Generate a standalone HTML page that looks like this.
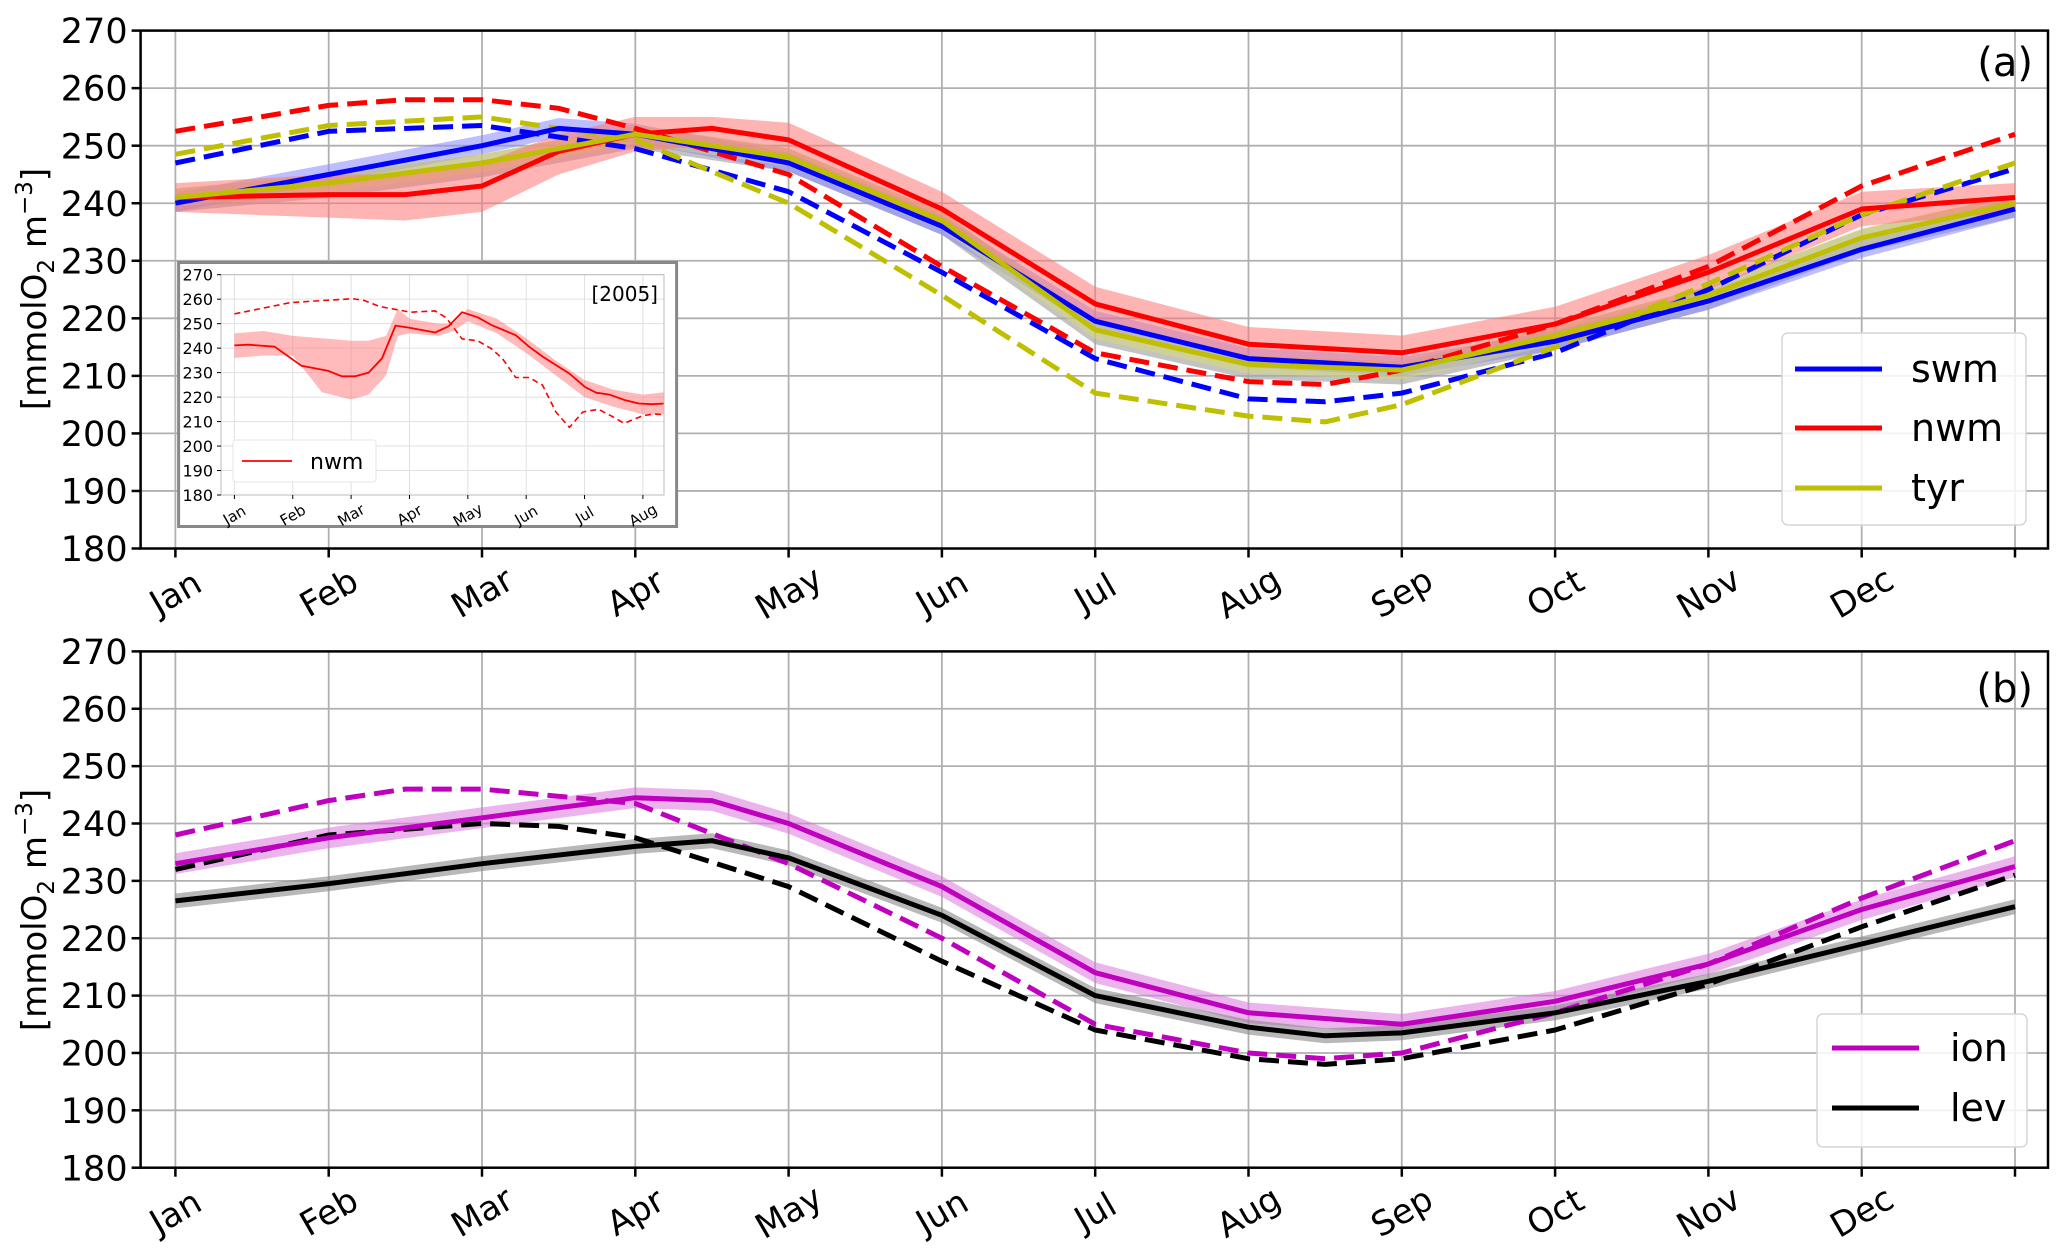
<!DOCTYPE html>
<html><head><meta charset="utf-8"><style>
html,body{margin:0;padding:0;background:#fff;}
svg{display:block;font-family:"DejaVu Sans","Liberation Sans",sans-serif;}
</style></head><body>
<svg id="chart" width="2067" height="1257" viewBox="0 0 2067 1257" xmlns="http://www.w3.org/2000/svg"></svg>
<script>
const months=["Jan","Feb","Mar","Apr","May","Jun","Jul","Aug","Sep","Oct","Nov","Dec"];
const yTicks=[180,190,200,210,220,230,240,250,260,270];
// panel a series (t in months from Jan)
const swmT=[0,1,2,2.5,3,4,5,6,7,8,9,10,11,12];
const swmV=[240,245,250,253,252,247,236,219.5,213,211.5,216,223,232,239];
const swmDT=[0,1,2,3,4,5,6,7,7.5,8,9,10,11,12];
const swmDV=[247,252.5,253.5,249.5,242,228,213,206,205.5,207,214,225,238,246];
const nwmT=[0,1,1.5,2,2.5,3,3.5,4,5,6,7,8,9,10,11,12];
const nwmV=[241,241.5,241.5,243,249,252,253,251,239,222.5,215.5,214,219,228,239,241];
const nwmLo=[238.5,237.5,237,238.5,245,249,250,248,236,219.5,212.5,211,216,225,236,238.5];
const nwmHi=[243.5,245,245,247,252,255,255,254,242,225.5,218.5,217,222,231,242,243.5];
const nwmDT=[0,1,1.5,2,2.5,3,4,5,6,7,7.5,8,9,10,11,12];
const nwmDV=[252.5,257,258,258,256.5,253,245,229,214,209,208.5,211,219,229,243,252];
const tyrT=[0,1,2,3,4,5,6,7,8,9,10,11,12];
const tyrV=[241,243.5,247,252,248,237,218,212,211,217,224,234,240];
const tyrDT=[0,1,2,3,4,5,6,7,7.5,8,9,10,11,12];
const tyrDV=[248.5,253.5,255,251,240,224,207,203,202,205,215,226,238,247];
// panel b
const ionT=[0,1,2,3,3.5,4,5,6,7,8,9,10,11,12];
const ionV=[233,237.5,241,244.5,244,240,229,214,207,205,209,215.5,225,232.5];
const ionDT=[0,1,1.5,2,3,4,5,6,7,7.5,8,9,10,11,12];
const ionDV=[238,244,246,246,243.5,233,220,205,200,199,200,207,215.5,227,237];
const levT=[0,1,2,3,3.5,4,5,6,7,7.5,8,9,10,11,12];
const levV=[226.5,229.5,233,236,237,234,224,210,204.5,203,203.5,207,212.5,219,225.5];
const levDT=[0,1,2,2.5,3,4,5,6,7,7.5,8,9,10,11,12];
const levDV=[232,238,240,239.5,237.5,229,216,204,199,198,199,204,212,222,231];
// inset 2005
const insT=[0,.245,.69,1.15,1.61,1.84,2.07,2.30,2.53,2.76,2.99,3.44,3.67,3.90,4.17,4.40,4.82,5.05,5.28,5.74,6.01,6.20,6.43,6.70,6.93,7.16,7.37];
const insV=[241.1,241.4,240.6,232.8,230.7,228.5,228.5,230,235.8,249.2,248.4,246.4,248.9,254.7,252.6,249.5,245.3,240.6,236.6,229.6,224.1,221.8,221,218.7,217.4,217.1,217.4];
const insBT=[0,0.5,1,1.5,2,2.3,2.6,2.8,3,3.5,3.75,4,4.5,5,5.5,6,6.5,7,7.37];
const insLo=[236,237,237,222,219,221,229,245,246,245,247,251,246,238,229,220,216,213,213];
const insHi=[246,247,245,244,243,243,245,256,252,250,250,256,252,244,235,227,223,221,222];
const insDT=[0,.46,.96,1.49,2.03,2.22,2.49,3.02,3.44,3.63,3.90,4.17,4.40,4.59,4.82,5.05,5.28,5.51,5.74,5.97,6.24,6.45,6.68,7.00,7.19,7.37];
const insDV=[254,256.2,258.6,259.4,260.2,259.5,257,254.7,255.2,252.4,243.8,243,239.8,235.8,228,228,224.9,213.9,207.6,213.9,215,212.4,209.3,212.4,213.1,212.8];

const svg=document.getElementById('chart');
const NS='http://www.w3.org/2000/svg';
function mk(tag,attrs,parent){const e=document.createElementNS(NS,tag);for(const k in attrs)e.setAttribute(k,attrs[k]);(parent||svg).appendChild(e);return e;}

function panel(P){
  const g=mk('g',{});
  
  
  const X=t=>P.x0+t*(P.x1-P.x0)/P.nm;
  const Y=v=>P.yb-(v-180)*(P.yb-P.yt)/90;
  P.X=X;P.Y=Y;
  for(const v of yTicks){const l=mk('line',{x1:P.l,x2:P.r,y1:Y(v),y2:Y(v),stroke:P.gc,'stroke-width':P.gw},g);
    
    }
  for(let i=0;i<=P.nm;i++){if(X(i)>P.r)break;const l=mk('line',{x1:X(i),x2:X(i),y1:P.yt,y2:P.yb,stroke:P.gc,'stroke-width':P.gw},g);
    
    }
  P.g=g;
  return P;
}
function axesFrame(P){
  const g=P.g,X=P.X,Y=P.Y;
  const fr=mk('rect',{x:P.l,y:P.yt,width:P.r-P.l,height:P.yb-P.yt,fill:'none',stroke:'#000','stroke-width':P.fw},g);
  
  
  for(const v of yTicks){
    mk('line',{x1:P.l-P.tl,x2:P.l,y1:Y(v),y2:Y(v),stroke:'#000','stroke-width':P.fw},g);
    const t=mk('text',{x:P.l-P.tl-4,y:Y(v)+P.fs*0.36,'text-anchor':'end','font-size':P.fs,fill:'#000'},g);
    t.textContent=v;
    
    
  }
  for(let i=0;i<=P.nm;i++){
    if(X(i)>P.r)break;
    mk('line',{x1:X(i),x2:X(i),y1:P.yb,y2:P.yb+P.tl,stroke:'#000','stroke-width':P.fw},g);
    if(i<P.nl){
      const cx=X(i),cy=P.yb+P.lo;
      const t=mk('text',{x:cx,y:cy+P.mfs*0.35,'text-anchor':'middle','font-size':P.mfs,fill:'#000',transform:`rotate(-30 ${cx} ${cy})`},g);
      t.textContent=months[i];
      
      
    }
  }
}
function path(P,T,V){return T.map((t,i)=>(i?'L':'M')+P.X(t).toFixed(1)+' '+P.Y(V[i]).toFixed(1)).join(' ');}
function line(P,T,V,color,w,dash,name){
  const a={d:path(P,T,V),fill:'none',stroke:color,'stroke-width':w,'stroke-linejoin':'round'};
  if(dash)a['stroke-dasharray']=dash;
  const e=mk('path',a,P.g);
  
  
}
function band(P,T,lo,hi,color,op,name){
  let d=T.map((t,i)=>(i?'L':'M')+P.X(t).toFixed(1)+' '+P.Y(hi[i]).toFixed(1)).join(' ');
  for(let i=T.length-1;i>=0;i--)d+=' L'+P.X(T[i]).toFixed(1)+' '+P.Y(lo[i]).toFixed(1);
  const e=mk('path',{d:d+'Z',fill:color,'fill-opacity':op,stroke:'none'},P.g);
  
  
}
const off=(V,d)=>V.map(v=>v+d);

const A=panel({name:'panel-a',l:140.6,r:2048,yt:30.6,yb:548.5,x0:175.4,x1:2015,nm:12,nl:12,gc:'#b0b0b0',gw:1.8,fw:2.5,tl:9,fs:35,mfs:34,lo:44});
band(A,tyrT,off(tyrV,-2.5),off(tyrV,1.5),'#aaaaaa',0.7,'all-band');
band(A,swmT,off(swmV,-1.5),off(swmV,1.8),'#8888ff',0.55,'swm-band');
band(A,tyrT,off(tyrV,-1.6),off(tyrV,1.6),'#dddd66',0.45,'tyr-band');
band(A,nwmT,nwmLo,nwmHi,'#ff7777',0.55,'nwm-band');
const DA='20 9';
line(A,swmDT,swmDV,'#0000ff',5,DA,'swm-dashed-line');
line(A,nwmDT,nwmDV,'#ff0000',5,DA,'nwm-dashed-line');
line(A,tyrDT,tyrDV,'#bfbf00',5,DA,'tyr-dashed-line');
line(A,swmT,swmV,'#0000ff',5,null,'swm-line');
line(A,nwmT,nwmV,'#ff0000',5,null,'nwm-line');
line(A,tyrT,tyrV,'#bfbf00',5,null,'tyr-line');
axesFrame(A);

const B=panel({name:'panel-b',l:140.6,r:2048,yt:651.4,yb:1167.7,x0:175.4,x1:2015,nm:12,nl:12,gc:'#b0b0b0',gw:1.8,fw:2.5,tl:9,fs:35,mfs:34,lo:44});
band(B,ionT,off(ionV,-1.8),off(ionV,1.8),'#dd77dd',0.55,'ion-band');
band(B,levT,off(levV,-1.3),off(levV,1.3),'#888888',0.6,'lev-band');
line(B,ionDT,ionDV,'#bf00bf',5,DA,'ion-dashed-line');
line(B,levDT,levDV,'#000000',5,DA,'lev-dashed-line');
line(B,ionT,ionV,'#bf00bf',5,null,'ion-line');
line(B,levT,levV,'#000000',5,null,'lev-line');
axesFrame(B);

const ib=mk('rect',{x:178.6,y:262.5,width:498,height:264,fill:'#fff',stroke:'#888','stroke-width':3});


const I=panel({name:'inset-2005',l:221,r:664,yt:274.7,yb:495,x0:234.4,x1:642.9,nm:7,nl:8,gc:'#e0e0e0',gw:1,fw:1,tl:4,fs:16,mfs:15,lo:20});
band(I,insBT,insLo,insHi,'#ff7777',0.5,'inset-band');
line(I,insDT,insDV,'#ff0000',1.6,'6 4','inset-dashed-line');
line(I,insT,insV,'#ff0000',1.8,null,'inset-line');
axesFrame(I);
{const f=I.g.querySelector('rect');f.setAttribute('stroke','#bbb');}
const yr=mk('text',{x:658,y:301,'text-anchor':'end','font-size':20,fill:'#000'},I.g);
yr.textContent='[2005]';


const il=mk('rect',{x:233,y:440,width:143,height:42,fill:'#fff',stroke:'#e5e5e5','stroke-width':1,rx:3},I.g);


mk('line',{x1:242,x2:292,y1:461,y2:461,stroke:'#ff0000','stroke-width':1.8},I.g);
const it=mk('text',{x:310,y:469,'font-size':22,fill:'#000'},I.g);
it.textContent='nwm';



function legend(x,y,w,h,items,name){
  const g=mk('g',{});
  
  
  mk('rect',{x:x,y:y,width:w,height:h,rx:6,fill:'#fff','fill-opacity':0.85,stroke:'#d5d5d5','stroke-width':1.5},g);
  for(const it of items){
    mk('line',{x1:it.lx1,x2:it.lx2,y1:it.y,y2:it.y,stroke:it.c,'stroke-width':5},g);
    const t=mk('text',{x:it.tx,y:it.y+13,'font-size':38,fill:'#000'},g);
    t.textContent=it.n;
    
    
  }
}
legend(1782,333,244,192,[{n:'swm',c:'#0000ff',y:369,lx1:1795,lx2:1882,tx:1911},{n:'nwm',c:'#ff0000',y:428,lx1:1795,lx2:1882,tx:1911},{n:'tyr',c:'#bfbf00',y:488,lx1:1795,lx2:1882,tx:1911}],'legend-a');
legend(1817,1014,210,133,[{n:'ion',c:'#bf00bf',y:1048,lx1:1832,lx2:1919,tx:1950},{n:'lev',c:'#000000',y:1108,lx1:1832,lx2:1919,tx:1950}],'legend-b');

function txt(s,attrs,name){const t=mk('text',attrs);t.textContent=s;
  
  return t;}
txt('(a)',{x:2033,y:76,'text-anchor':'end','font-size':40,fill:'#000'},'panel-a-label');
txt('(b)',{x:2033,y:702,'text-anchor':'end','font-size':40,fill:'#000'},'panel-b-label');
function ytitle(cy,name){
  const t=mk('text',{x:0,y:0,'text-anchor':'middle','font-size':34,fill:'#000',transform:`translate(46 ${cy}) rotate(-90)`});
  t.innerHTML='[mmolO<tspan font-size="23" dy="8">2</tspan><tspan dy="-8"> m</tspan><tspan font-size="23" dy="-14">−3</tspan><tspan dy="14">]</tspan>';
  
  
}
ytitle(289,'y-axis-title-a');
ytitle(910,'y-axis-title-b');
</script>
</body></html>
